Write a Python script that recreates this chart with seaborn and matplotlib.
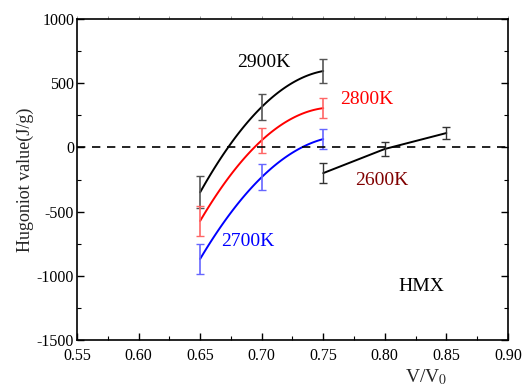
import numpy as np
import matplotlib
matplotlib.use("Agg")
import matplotlib.pyplot as plt
from matplotlib.ticker import MultipleLocator
import seaborn as sns

# datos
v_hot = [0.65, 0.70, 0.75]
h_2900 = [-350, 315, 595]
e_2900 = [125, 105, 95]
h_2800 = [-573, 55, 306]
e_2800 = [120, 100, 80]
h_2700 = [-869, -232, 65]
e_2700 = [115, 100, 80]

v_2600 = [0.75, 0.80, 0.85]
h_2600 = [-200, -12, 112]
e_2600 = [80, 55, 47]

sns.set_theme(style="ticks")
plt.rcParams['font.family'] = ['Liberation Serif', 'DejaVu Serif']
plt.rcParams['mathtext.fontset'] = 'stix'
plt.rcParams['axes.unicode_minus'] = False

fig = plt.figure(figsize=(5.22, 3.89), dpi=100)
ax = fig.add_axes([0.1475, 0.126, 0.8255, 0.825])

# curvas suaves (cuadratica por los tres puntos)
xs = np.linspace(0.65, 0.75, 100)
series = [(h_2900, e_2900, "black", "#555555"),
          (h_2800, e_2800, "red", "#ff6666"),
          (h_2700, e_2700, "blue", "#6666ff")]
for h, e, c, ec in series:
    coef = np.polyfit(v_hot, h, 2)
    sns.lineplot(x=xs, y=np.polyval(coef, xs), color=c, lw=1.4, ax=ax)
    ax.errorbar(v_hot, h, yerr=e, fmt="none", ecolor=ec, elinewidth=1.2,
                capsize=3, capthick=1.0)

sns.lineplot(x=v_2600, y=h_2600, color="black", lw=1.4, ax=ax)
ax.errorbar(v_2600, h_2600, yerr=e_2600, fmt="none", ecolor="#333333",
            elinewidth=1.0, capsize=3, capthick=1.0)

ax.axhline(0, color="black", ls=(0, (5, 4)), lw=1.2)

ax.text(0.680, 630, "2900K", fontsize=14, color="black")
ax.text(0.7636, 340, "2800K", fontsize=14, color="red")
ax.text(0.667, -770, "2700K", fontsize=14, color="blue")
ax.text(0.776, -290, "2600K", fontsize=14, color="#800000")
ax.text(0.811, -1120, "HMX", fontsize=14, color="black")

ax.set_xlim(0.55, 0.90)
ax.set_ylim(-1500, 1000)
ax.xaxis.set_major_locator(MultipleLocator(0.05))
ax.xaxis.set_minor_locator(MultipleLocator(0.025))
ax.yaxis.set_major_locator(MultipleLocator(500))
ax.yaxis.set_minor_locator(MultipleLocator(250))
ax.xaxis.set_major_formatter(plt.FormatStrFormatter("%.2f"))
ax.tick_params(which="both", direction="in", right=True, labelsize=11.5,
               colors="black", pad=2)
ax.tick_params(axis="x", which="major", pad=6)
ax.tick_params(which="major", length=5, width=1)
ax.tick_params(which="minor", length=3, width=0.8)
for s in ax.spines.values():
    s.set_color("black")
    s.set_linewidth(1.2)

# ticks pequeños hacia afuera arriba
top = ax.secondary_xaxis("top")
top.xaxis.set_major_locator(MultipleLocator(0.025))
top.tick_params(direction="out", length=2, width=0.6, labeltop=False,
                colors="#888888")
top.spines["top"].set_visible(False)

ax.set_ylabel("Hugoniot value(J/g)", fontsize=13, labelpad=2)
ax.set_xlabel("V/V$_0$", fontsize=14)
ax.xaxis.set_label_coords(0.81, -0.085)

fig.savefig("out.png", dpi=100)
